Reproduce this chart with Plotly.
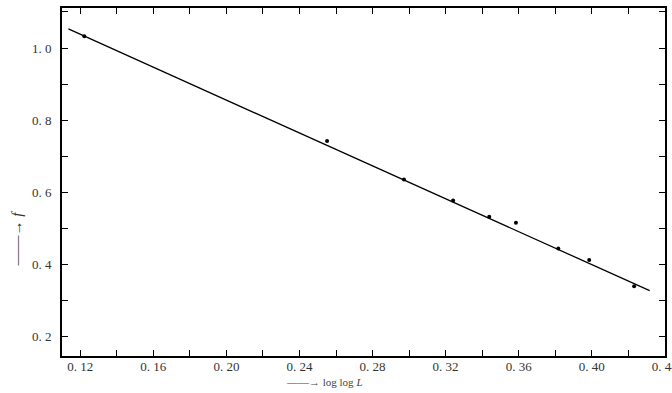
import plotly.graph_objects as go

# fitted straight line (endpoints)
line_x = [0.1135, 0.4317]
line_y = [1.053, 0.328]

# measured points
pts_x = [0.1222, 0.2551, 0.2972, 0.3241, 0.3439, 0.3585, 0.3817, 0.3986, 0.4232]
pts_y = [1.033, 0.7425, 0.636, 0.578, 0.533, 0.516, 0.445, 0.413, 0.340]

x_ticks = [0.12, 0.16, 0.20, 0.24, 0.28, 0.32, 0.36, 0.40, 0.44]
x_labels = ["0. 12", "0. 16", "0. 20", "0. 24", "0. 28", "0. 32", "0. 36", "0. 40", "0. 44"]
y_ticks = [0.2, 0.4, 0.6, 0.8, 1.0]
y_labels = ["0. 2", "0. 4", "0. 6", "0. 8", "1. 0"]

fig = go.Figure()
fig.add_trace(go.Scatter(x=line_x, y=line_y, mode="lines",
                         line=dict(color="black", width=1.3), showlegend=False))
fig.add_trace(go.Scatter(x=pts_x, y=pts_y, mode="markers",
                         marker=dict(color="black", size=4), showlegend=False))

font = dict(family="Liberation Serif, Times New Roman, serif", size=13, color="#333")

fig.update_layout(
    width=672, height=393,
    margin=dict(l=62, r=5, t=8, b=37),
    paper_bgcolor="white", plot_bgcolor="white",
    font=font,
    xaxis=dict(range=[0.110, 0.4401], tickvals=x_ticks, ticktext=x_labels,
               ticks="inside", ticklen=6, tickwidth=1.2, tickcolor="black",
               minor=dict(dtick=0.02, tick0=0.12, ticks="inside", ticklen=6, tickcolor="black", tickwidth=1.2),
               showline=True, linecolor="black", linewidth=1.8, mirror="ticks",
               showgrid=False, zeroline=False, tickfont=font, ticklabelstandoff=-3,
               automargin=False, ticklabeloverflow="allow"),
    yaxis=dict(range=[0.147, 1.111], tickvals=y_ticks, ticktext=y_labels,
               ticks="inside", ticklen=6, tickwidth=1.2, tickcolor="black",
               minor=dict(dtick=0.1, tick0=0.2, ticks="inside", ticklen=6, tickcolor="black", tickwidth=1.2),
               showline=True, linecolor="black", linewidth=1.8, mirror="ticks",
               showgrid=False, zeroline=False, tickfont=font, ticklabelstandoff=6),
)

fig.add_annotation(x=0.435, y=-0.052, xref="paper", yref="paper", yanchor="top",
                   text="——→ log log <i>L</i>", showarrow=False,
                   font=dict(family="Liberation Serif, serif", size=11, color="#444"))
fig.add_annotation(x=-0.092, y=0.25, xref="paper", yref="paper",
                   text="——→ <i>f</i>", textangle=-90, showarrow=False,
                   font=dict(family="Liberation Serif, serif", size=15, color="#333"))

fig.write_html("out.html")
